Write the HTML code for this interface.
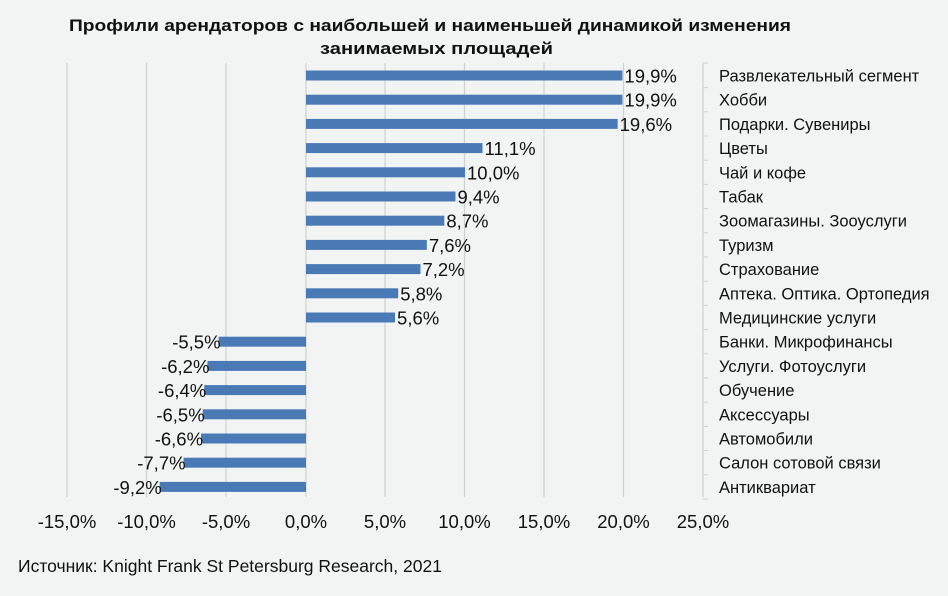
<!DOCTYPE html>
<html><head><meta charset="utf-8"><style>
html,body{margin:0;padding:0;background:#f2f4f3;}
svg{display:block;font-family:"Liberation Sans","Noto Sans CJK SC",sans-serif;}
</style></head><body>
<svg width="948" height="596" viewBox="0 0 948 596">
<rect width="948" height="596" fill="#f2f4f3"/>
<g font-weight="bold" font-size="17" fill="#111">
<text x="69" y="31" textLength="722" lengthAdjust="spacingAndGlyphs">Профили арендаторов с наибольшей и наименьшей динамикой изменения</text>
<text x="320" y="54" textLength="233" lengthAdjust="spacingAndGlyphs">занимаемых площадей</text>
</g>
<g stroke="#cfd1d0" stroke-width="1.2">
<line x1="67" y1="63" x2="67" y2="497"/><line x1="146.5" y1="63" x2="146.5" y2="497"/>
<line x1="226" y1="63" x2="226" y2="497"/><line x1="385" y1="63" x2="385" y2="497"/>
<line x1="464.5" y1="63" x2="464.5" y2="497"/><line x1="544" y1="63" x2="544" y2="497"/>
<line x1="623.5" y1="63" x2="623.5" y2="497"/><line x1="703" y1="63" x2="703" y2="497"/>
<line x1="306" y1="63" x2="306" y2="497"/>
</g>
<g stroke="#cfd1d0" stroke-width="1">
<line x1="703" y1="63" x2="708" y2="63"/>
</g>
<g id="bars" fill="#4a7ab5"></g>
<g id="vals" font-size="18.5" fill="#111"></g>
<g id="cats" font-size="16.5" fill="#111"></g>
<g font-size="18.5" fill="#111" text-anchor="middle">
<text x="67" y="528">-15,0%</text><text x="146.5" y="528">-10,0%</text><text x="226" y="528">-5,0%</text>
<text x="306" y="528">0,0%</text><text x="385" y="528">5,0%</text><text x="464.5" y="528">10,0%</text>
<text x="544" y="528">15,0%</text><text x="623.5" y="528">20,0%</text><text x="703" y="528">25,0%</text>
</g>
<text x="18" y="572" font-size="17.5" fill="#111">Источник: Knight Frank St Petersburg Research, 2021</text>
<script>
var d=[["Развлекательный сегмент",19.9],["Хобби",19.9],["Подарки. Сувениры",19.6],["Цветы",11.1],["Чай и кофе",10.0],["Табак",9.4],["Зоомагазины. Зооуслуги",8.7],["Туризм",7.6],["Страхование",7.2],["Аптека. Оптика. Ортопедия",5.8],["Медицинские услуги",5.6],["Банки. Микрофинансы",-5.5],["Услуги. Фотоуслуги",-6.2],["Обучение",-6.4],["Аксессуары",-6.5],["Автомобили",-6.6],["Салон сотовой связи",-7.7],["Антиквариат",-9.2]];
var ns="http://www.w3.org/2000/svg",s=15.9,z=306;
function el(p,t,a,txt){var e=document.createElementNS(ns,t);for(var k in a)e.setAttribute(k,a[k]);if(txt)e.textContent=txt;document.getElementById(p).appendChild(e);}
d.forEach(function(r,i){var cy=75.5+i*24.2;var v=r[1];var x2=z+v*s;
el("bars","rect",{x:Math.min(z,x2),y:cy-5,width:Math.abs(v*s),height:10});
var lbl=v.toFixed(1).replace(".",",")+"%";
if(v>0)el("vals","text",{x:x2+2,y:cy+7},lbl);else el("vals","text",{x:x2+2,y:cy+7,"text-anchor":"end"},lbl);
el("cats","text",{x:719,y:cy+6},r[0]);
el("bars","rect",{x:703,y:cy+11.6,width:5,height:1,fill:"#cfd1d0"});
});
</script>
</svg>
</body></html>
